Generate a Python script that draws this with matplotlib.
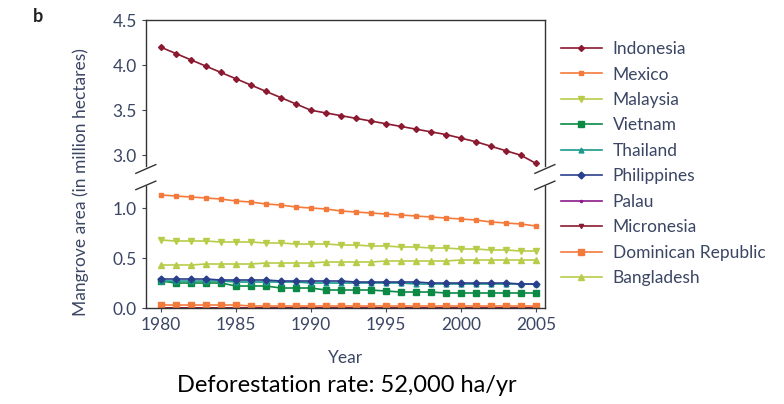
import matplotlib.pyplot as plt
import numpy as np

plt.rcParams['font.family'] = ['Lato', 'DejaVu Sans']

years = np.arange(1980, 2006)

indonesia = [4.20, 4.13, 4.06, 3.99, 3.92, 3.85, 3.78, 3.71, 3.64, 3.57, 3.50,
             3.47, 3.44, 3.41, 3.38, 3.35, 3.32, 3.29, 3.26, 3.23, 3.19, 3.15,
             3.10, 3.05, 3.00, 2.91]
mexico = [1.13, 1.12, 1.11, 1.10, 1.09, 1.07, 1.06, 1.04, 1.03, 1.01, 1.00,
          0.99, 0.97, 0.96, 0.95, 0.94, 0.93, 0.92, 0.91, 0.90, 0.89, 0.88,
          0.86, 0.85, 0.84, 0.82]
malaysia = [0.68, 0.67, 0.67, 0.67, 0.66, 0.66, 0.66, 0.65, 0.65, 0.64, 0.64,
            0.64, 0.63, 0.63, 0.62, 0.62, 0.61, 0.61, 0.60, 0.60, 0.59, 0.59,
            0.58, 0.58, 0.57, 0.57]
vietnam = [0.27, 0.25, 0.25, 0.25, 0.25, 0.22, 0.22, 0.22, 0.20, 0.20, 0.20,
           0.18, 0.18, 0.18, 0.18, 0.17, 0.16, 0.16, 0.16, 0.15, 0.15, 0.15,
           0.15, 0.15, 0.15, 0.15]
thailand = [0.27, 0.27, 0.27, 0.27, 0.27, 0.26, 0.26, 0.26, 0.26, 0.26, 0.25,
            0.25, 0.25, 0.25, 0.25, 0.25, 0.25, 0.24, 0.24, 0.24, 0.24, 0.24,
            0.24, 0.24, 0.24, 0.24]
philippines = [0.29, 0.29, 0.29, 0.29, 0.28, 0.28, 0.28, 0.28, 0.27, 0.27, 0.27,
               0.27, 0.27, 0.26, 0.26, 0.26, 0.26, 0.26, 0.25, 0.25, 0.25, 0.25,
               0.25, 0.25, 0.24, 0.24]
palau = [0.005] * 26
micronesia = [0.0] * 26
dominican = [0.03, 0.03, 0.03, 0.03, 0.03, 0.03, 0.02, 0.02, 0.02, 0.02, 0.02,
             0.02, 0.02, 0.02, 0.02, 0.02, 0.02, 0.02, 0.02, 0.02, 0.02, 0.02,
             0.02, 0.02, 0.02, 0.02]
bangladesh = [0.43, 0.43, 0.43, 0.44, 0.44, 0.44, 0.44, 0.45, 0.45, 0.45, 0.45,
              0.46, 0.46, 0.46, 0.46, 0.47, 0.47, 0.47, 0.47, 0.47, 0.48, 0.48,
              0.48, 0.48, 0.48, 0.48]

names = ['Indonesia', 'Mexico', 'Malaysia', 'Vietnam', 'Thailand', 'Philippines',
         'Palau', 'Micronesia', 'Dominican Republic', 'Bangladesh']
series = [indonesia, mexico, malaysia, vietnam, thailand, philippines,
          palau, micronesia, dominican, bangladesh]
colors = ['#8b1a30', '#f47a3c', '#b9cc4a', '#0c8a45', '#1a9a8c', '#2a3f8c',
          '#8b1a8b', '#8b1a30', '#f47a3c', '#b9cc4a']
markers = ['D', 's', 'v', 's', '^', 'D', '.', 'v', 's', '^']
msizes = [3, 2.5, 5, 4.5, 3.5, 3.5, 3, 3, 4.5, 4.5]

txt = '#3b4664'

fig = plt.figure(figsize=(7.84, 4.04), dpi=100)
ax_top = fig.add_axes([0.186, 0.589, 0.509, 0.361])
ax_bot = fig.add_axes([0.186, 0.2376, 0.509, 0.302])

lines = []
for name, y, c, m, ms in zip(names, series, colors, markers, msizes):
    for ax in (ax_top, ax_bot):
        ln, = ax.plot(years, y, color=c, marker=m, markersize=ms, lw=1.2,
                      label=name)
    lines.append(ln)

ax_top.set_ylim(2.88, 4.5)
ax_bot.set_ylim(0, 1.22)
for ax in (ax_top, ax_bot):
    ax.set_xlim(1979, 2005.6)
    ax.tick_params(colors=txt, labelsize=12.5, length=3)
    for s in ax.spines.values():
        s.set_color('#333333')
        s.set_linewidth(1.0)

ax_top.set_yticks([3.0, 3.5, 4.0, 4.5])
ax_top.set_yticklabels(['3.0', '3.5', '4.0', '4.5'])
ax_top.spines['bottom'].set_visible(False)
ax_top.tick_params(axis='x', bottom=False, labelbottom=False)

ax_bot.set_yticks([0.0, 0.5, 1.0])
ax_bot.set_yticklabels(['0.0', '0.5', '1.0'])
ax_bot.spines['top'].set_visible(False)
ax_bot.set_xticks([1980, 1985, 1990, 1995, 2000, 2005])
ax_bot.set_xlabel('Year', color=txt, fontsize=12.5, labelpad=12)

# break marks
d = 0.025
kw = dict(color='#333333', lw=1.0, clip_on=False)
for x in (0, 1):
    ax_top.plot([x - d, x + d], [-0.05, 0.01], transform=ax_top.transAxes, **kw)
    ax_bot.plot([x - d, x + d], [0.97, 1.04], transform=ax_bot.transAxes, **kw)

fig.text(0.103, 0.55, 'Mangrove area (in million hectares)', rotation=90,
         ha='center', va='center', color=txt, fontsize=12.5)
fig.text(0.042, 0.945, 'b', fontsize=13, fontweight='bold', color='#222222')
fig.text(0.443, 0.03, 'Deforestation rate: 52,000 ha/yr', ha='center',
         fontsize=17, color='black')

fig.legend(lines, names, loc='upper left', bbox_to_anchor=(0.695, 0.937),
           frameon=False, fontsize=12.5, labelcolor=txt, handlelength=2.4,
           labelspacing=0.545, handletextpad=0.6)

plt.savefig('out.png', dpi=100)
